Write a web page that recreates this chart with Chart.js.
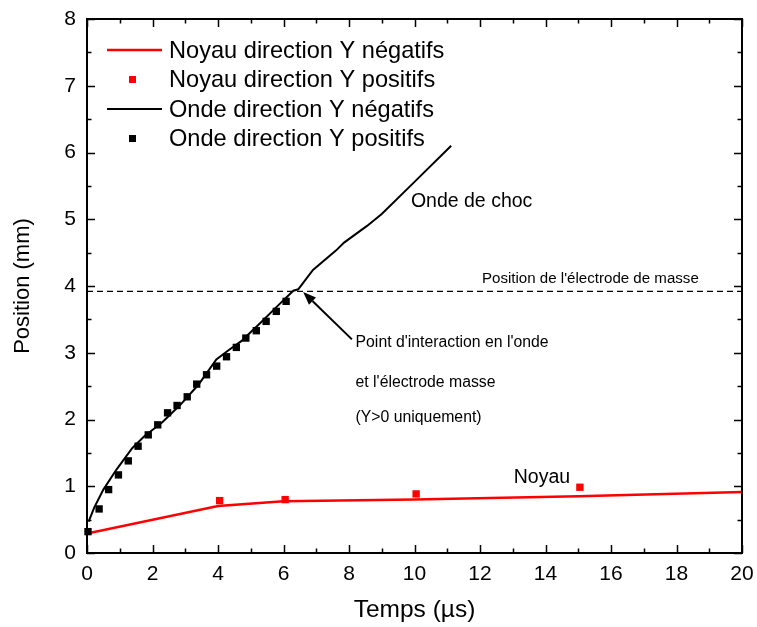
<!DOCTYPE html>
<html><head><meta charset="utf-8">
<script src="https://cdn.jsdelivr.net/npm/chart.js@4"></script>
<style>html,body{margin:0;padding:0;background:#fff}</style>
</head><body>
<canvas id="c" width="757" height="627"></canvas>
<script>
const FONT = "'Liberation Sans', Arial, Helvetica, sans-serif";

// ---- data ----
const noyauNegX = [0, 4, 6, 10, 15, 20];
const noyauNegY = [0.29, 0.705, 0.775, 0.80, 0.85, 0.915];

const noyauPosX = [4.05, 6.05, 10.05, 15.05];
const noyauPosY = [0.785, 0.80, 0.885, 0.985];

const ondeNegX = [0.05, 0.22, 0.5, 0.9, 1.38, 1.75, 2.3, 2.85, 3.4, 3.95, 4.3, 4.7, 5.3, 5.9, 6.3, 6.45, 6.9, 7.6, 7.85, 8.55, 9.0, 10.0, 11.12];
const ondeNegY = [0.47, 0.68, 0.95, 1.25, 1.57, 1.75, 1.96, 2.22, 2.52, 2.9, 3.03, 3.17, 3.45, 3.74, 3.93, 3.95, 4.24, 4.53, 4.65, 4.9, 5.08, 5.56, 6.1];

const ondePosX = [0.03, 0.37, 0.66, 0.96, 1.26, 1.56, 1.87, 2.16, 2.46, 2.75, 3.06, 3.35, 3.65, 3.96, 4.26, 4.56, 4.85, 5.17, 5.47, 5.78, 6.08];
const ondePosY = [0.32, 0.66, 0.95, 1.17, 1.38, 1.60, 1.77, 1.92, 2.10, 2.21, 2.34, 2.53, 2.67, 2.80, 2.94, 3.08, 3.22, 3.33, 3.47, 3.62, 3.77];

const electrodeX = [0, 20];
const electrodeY = [3.92, 3.92];

const seriesLabels = ["Noyau direction Y négatifs", "Noyau direction Y positifs", "Onde direction Y négatifs", "Onde direction Y positifs"];
const xTickValues = [0, 2, 4, 6, 8, 10, 12, 14, 16, 18, 20];
const yTickValues = [0, 1, 2, 3, 4, 5, 6, 7, 8];

const zip = (xs, ys) => xs.map((x, i) => ({x: x, y: ys[i]}));

// ---- plugins ----
const framePlugin = {
  id: 'frame',
  afterDatasetsDraw(chart) {
    const {ctx, chartArea: a, scales: {x, y}} = chart;
    ctx.save();
    ctx.strokeStyle = '#000';
    ctx.lineWidth = 2;
    ctx.strokeRect(a.left, a.top, a.right - a.left, a.bottom - a.top);
    ctx.lineWidth = 1.5;
    ctx.beginPath();
    for (let v = 0; v <= 20; v += 1) {
      const px = Math.round(x.getPixelForValue(v)) + 0.5;
      const len = v % 2 === 0 ? 8 : 4.5;
      ctx.moveTo(px, a.bottom); ctx.lineTo(px, a.bottom - len);
      ctx.moveTo(px, a.top); ctx.lineTo(px, a.top + len);
    }
    for (let v = 0; v <= 8; v += 0.5) {
      const py = Math.round(y.getPixelForValue(v)) + 0.5;
      const len = Number.isInteger(v) ? 8 : 4.5;
      ctx.moveTo(a.left, py); ctx.lineTo(a.left + len, py);
      ctx.moveTo(a.right, py); ctx.lineTo(a.right - len, py);
    }
    ctx.stroke();
    ctx.restore();
  }
};

const notesPlugin = {
  id: 'notes',
  afterDatasetsDraw(chart) {
    const {ctx, scales: {x, y}} = chart;
    const P = (vx, vy) => [x.getPixelForValue(vx), y.getPixelForValue(vy)];
    ctx.save();
    ctx.fillStyle = '#000';
    ctx.textAlign = 'left';
    ctx.textBaseline = 'alphabetic';
    const txt = (s, size, vx, vy) => {
      ctx.font = size + 'px ' + FONT;
      const [px, py] = P(vx, vy);
      ctx.fillText(s, px, py);
    };
    txt("Onde de choc", 19.5, 9.89, 5.18);
    txt("Noyau", 19.5, 13.03, 1.05);
    txt("Position de l'électrode de masse", 15.1, 12.06, 4.05);
    txt("Point d'interaction en l'onde", 15.8, 8.2, 3.09);
    txt("et l'électrode masse", 15.8, 8.2, 2.49);
    txt("(Y>0 uniquement)", 15.8, 8.2, 1.96);
    // arrow
    const [x1, y1] = P(8.09, 3.2);
    const [x2, y2] = P(6.6, 3.91);
    ctx.strokeStyle = '#000';
    ctx.lineWidth = 2;
    const ang = Math.atan2(y2 - y1, x2 - x1);
    const hl = 13, hw = 5;
    const bx = x2 - hl * Math.cos(ang), by = y2 - hl * Math.sin(ang);
    ctx.beginPath(); ctx.moveTo(x1, y1); ctx.lineTo(bx, by); ctx.stroke();
    ctx.beginPath();
    ctx.moveTo(x2, y2);
    ctx.lineTo(bx + hw * Math.sin(ang), by - hw * Math.cos(ang));
    ctx.lineTo(bx - hw * Math.sin(ang), by + hw * Math.cos(ang));
    ctx.closePath(); ctx.fill();
    ctx.restore();
  }
};

const legendPlugin = {
  id: 'insideLegend',
  afterDraw(chart) {
    const {ctx} = chart;
    const rowsY = [50, 79.5, 109, 138.5];
    ctx.save();
    ctx.font = '23.6px ' + FONT;
    ctx.textBaseline = 'middle';
    ctx.textAlign = 'left';
    for (let i = 0; i < 4; i++) {
      const ds = chart.data.datasets[i];
      const yy = rowsY[i];
      if (ds.showLine !== false) {
        ctx.strokeStyle = ds.borderColor;
        ctx.lineWidth = ds.borderWidth;
        ctx.beginPath(); ctx.moveTo(107, yy); ctx.lineTo(162, yy); ctx.stroke();
      } else {
        ctx.fillStyle = ds.backgroundColor;
        ctx.fillRect(132.5 - 3.5, yy - 3.5, 7, 7);
      }
      ctx.fillStyle = '#000';
      ctx.fillText(ds.label, 169, yy + 1);
    }
    ctx.restore();
  }
};

const tickFont = {size: 21, family: FONT};

new Chart(document.getElementById('c'), {
  type: 'line',
  data: {
    datasets: [
      {label: seriesLabels[0], data: zip(noyauNegX, noyauNegY), borderColor: '#ff0000', backgroundColor: '#ff0000', borderWidth: 2.5, pointRadius: 0, tension: 0, order: 3},
      {label: seriesLabels[1], data: zip(noyauPosX, noyauPosY), showLine: false, borderColor: '#ff0000', backgroundColor: '#ff0000', pointStyle: 'rect', pointRadius: 5.2, pointBorderWidth: 0, order: 2, clip: false},
      {label: seriesLabels[2], data: zip(ondeNegX, ondeNegY), borderColor: '#000000', backgroundColor: '#000000', borderWidth: 2, pointRadius: 0, tension: 0, order: 1},
      {label: seriesLabels[3], data: zip(ondePosX, ondePosY), showLine: false, borderColor: '#000000', backgroundColor: '#000000', pointStyle: 'rect', pointRadius: 5.2, pointBorderWidth: 0, order: 0, clip: false},
      {label: 'electrode', data: zip(electrodeX, electrodeY), borderColor: '#000000', borderWidth: 1.2, borderDash: [6, 4], pointRadius: 0, order: 4}
    ]
  },
  options: {
    responsive: false,
    animation: false,
    devicePixelRatio: 1,
    layout: {padding: {top: 19, right: 15, left: 0, bottom: 0}},
    plugins: {legend: {display: false}, tooltip: {enabled: false}},
    scales: {
      x: {
        type: 'linear', min: 0, max: 20,
        afterBuildTicks(s) { s.ticks = xTickValues.map(v => ({value: v})); },
        ticks: {font: tickFont, color: '#000', padding: 9, maxRotation: 0, autoSkip: false},
        grid: {display: false, drawTicks: false},
        border: {display: false},
        title: {display: true, text: 'Temps (µs)', font: {size: 24.5, family: FONT}, color: '#000', padding: {top: 0, bottom: 2}},
        afterFit(s) { s.height = 74; s.paddingLeft = 0; s.paddingRight = 0; }
      },
      y: {
        type: 'linear', min: 0, max: 8,
        afterBuildTicks(s) { s.ticks = yTickValues.map(v => ({value: v})); },
        ticks: {font: tickFont, color: '#000', padding: 11, autoSkip: false},
        grid: {display: false, drawTicks: false},
        border: {display: false},
        title: {display: true, text: 'Position (mm)', font: {size: 22, family: FONT}, color: '#000', padding: {top: 10, bottom: 0}},
        afterFit(s) { s.width = 87; s.paddingTop = 0; s.paddingBottom = 0; }
      }
    }
  },
  plugins: [framePlugin, notesPlugin, legendPlugin]
});
</script>
</body></html>
